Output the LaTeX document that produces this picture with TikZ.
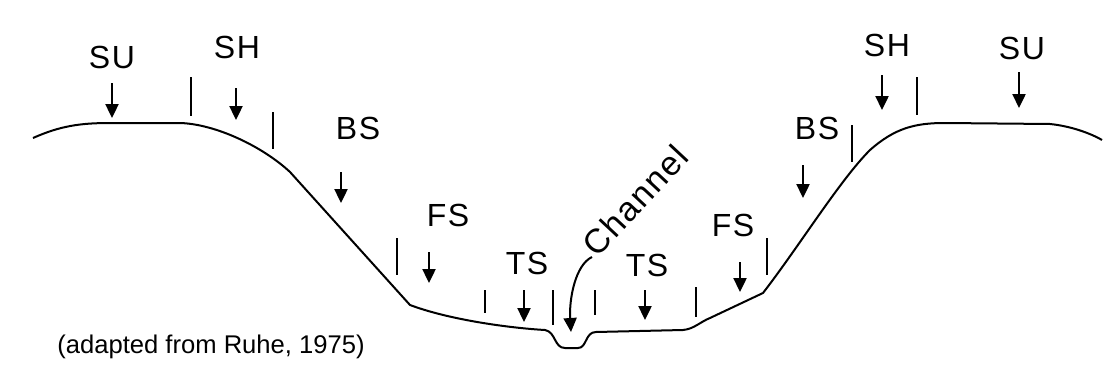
\documentclass[tikz,border=0pt]{standalone}
\usepackage{fontspec}
\setmainfont{Liberation Sans}
\usepackage{tikz}
\usetikzlibrary{arrows.meta}

\begin{document}
\begin{tikzpicture}[x=0.5pt, y=-0.5pt,
    zone/.style={font=\fontsize{16}{18}\selectfont\addfontfeatures{LetterSpace=5}, inner sep=1pt},
    marker/.style={line width=1.2pt, -{Triangle[length=7pt, width=6.5pt]}},
    bound/.style={line width=1.3pt}]
    \useasboundingbox (0,0) rectangle (1107,375);

    % valley profile
    \draw[line width=1pt] (33,138) .. controls (60,126) and (80,123) .. (110,123) -- (180,123)
        .. controls (215,124) and (262,146) .. (290,172) -- (410,305)
        .. controls (450,320) and (510,328) .. (545,330)
        .. controls (556,332) and (554,348) .. (565,348) -- (578,348)
        .. controls (587,348) and (585,332) .. (596,332) -- (683,330)
        .. controls (694,329) and (700,322) .. (710,318) -- (763,293)
        .. controls (800,245) and (840,180) .. (870,150)
        .. controls (895,128) and (915,123) .. (945,123) -- (1050,124)
        .. controls (1070,126) and (1090,133) .. (1102,140);

    % unit boundaries
    \foreach \x/\ya/\yb in {191/77/116, 273/112/149, 397/238/275, 485/290/313, 553/290/325,
        595/290/315, 696/287/317, 767/238/275, 852/125/162, 917/77/115}
        \draw[bound] (\x,\ya) -- (\x,\yb);

    % unit arrows
    \foreach \x/\ya/\yb in {112/83/118, 236/88/120, 341/172/203, 429/252/283, 524/290/322,
        645/290/320, 740/262/292, 803/165/198, 882/75/110, 1019/72/108}
        \draw[marker] (\x,\ya) -- (\x,\yb);

    % unit labels
    \node[zone] (suA) at (112,57) {SU};
    \node[zone] (shA) at (237,47) {SH};
    \node[zone] (bsA) at (358,128) {BS};
    \node[zone] (fsA) at (448,215) {FS};
    \node[zone] (tsA) at (527,263) {TS};
    \node[zone] (tsB) at (647,265) {TS};
    \node[zone] (fsB) at (733,225) {FS};
    \node[zone] (bsB) at (817,128) {BS};
    \node[zone] (shB) at (887,45) {SH};
    \node[zone] (suB) at (1022,48) {SU};

    % channel
    \coordinate (chanfoot) at (592,257);
    \coordinate (chanbed) at (571,332);
    \node[zone, font=\fontsize{17}{19}\selectfont\addfontfeatures{LetterSpace=5}, rotate=47,
        anchor=base west, inner sep=0pt] (chan) at (597,259) {Channel};
    \draw[marker, line width=1pt] (chanfoot) .. controls (575,265) and (569,300) .. (chanbed);

    \node[font=\fontsize{12.8}{14}\selectfont, inner sep=0pt] (src) at (211,347) {(adapted from Ruhe, 1975)};
\end{tikzpicture}
\end{document}
